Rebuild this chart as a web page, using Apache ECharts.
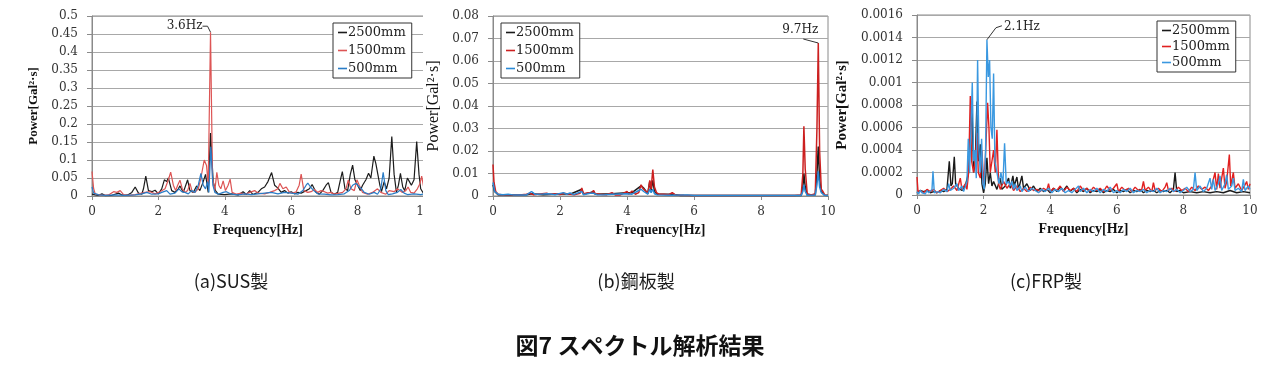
<!DOCTYPE html>
<html><head><meta charset="utf-8">
<script src="https://cdn.jsdelivr.net/npm/echarts@6/dist/echarts.min.js"></script>
<style>
html,body{margin:0;padding:0;background:#fff;width:1280px;height:372px;overflow:hidden}
.p{position:absolute;top:0;height:372px;overflow:hidden}
</style></head><body>
<div id="c1" class="p" style="left:0;width:423px"></div>
<div id="c2" class="p" style="left:423px;width:427px"></div>
<div id="c3" class="p" style="left:830px;width:450px"></div>
<script>
// ---------- data ----------
const seriesNames = ['2500mm', '1500mm', '500mm'];
const captions = ['(a)SUS製', '(b)鋼板製', '(c)FRP製'];
const mainTitle = '図7 スペクトル解析結果';
const xTitle = 'Frequency[Hz]';
const yTitle = 'Power[Gal²·s]';
const peakLabels = ['3.6Hz', '9.7Hz', '2.1Hz'];
const peakPoints = [[3.57, 0.455], [9.71, 0.068], [2.1, 0.00138]];

// (a) SUS  [frequency Hz, power]
const sus2500 = [[0,0.005],[0.1,0.003],[0.2,0.002],[0.3,0.006],[0.4,0.001],[0.6,0.002],[0.8,0.008],[0.9,0.003],[1.0,0.002],[1.1,0.004],[1.2,0.01],[1.3,0.025],[1.4,0.008],[1.5,0.005],[1.55,0.02],[1.62,0.055],[1.7,0.015],[1.8,0.012],[1.9,0.016],[2.0,0.006],[2.1,0.02],[2.18,0.045],[2.25,0.04],[2.3,0.05],[2.4,0.015],[2.5,0.01],[2.6,0.02],[2.65,0.028],[2.75,0.01],[2.88,0.045],[2.95,0.015],[3.05,0.01],[3.15,0.028],[3.25,0.015],[3.35,0.04],[3.42,0.06],[3.5,0.01],[3.57,0.175],[3.65,0.04],[3.72,0.015],[3.8,0.005],[4.0,0.004],[4.2,0.006],[4.4,0.003],[4.55,0.012],[4.65,0.004],[4.75,0.015],[4.85,0.004],[5.0,0.01],[5.1,0.02],[5.2,0.025],[5.3,0.04],[5.41,0.065],[5.5,0.03],[5.6,0.022],[5.7,0.01],[5.8,0.015],[5.9,0.008],[6.0,0.012],[6.1,0.006],[6.2,0.01],[6.3,0.008],[6.45,0.015],[6.55,0.02],[6.63,0.032],[6.75,0.01],[6.85,0.005],[6.95,0.015],[7.05,0.03],[7.12,0.037],[7.2,0.01],[7.3,0.005],[7.4,0.01],[7.47,0.04],[7.54,0.068],[7.62,0.02],[7.7,0.015],[7.78,0.06],[7.85,0.086],[7.92,0.045],[8.0,0.03],[8.08,0.015],[8.15,0.03],[8.25,0.045],[8.33,0.063],[8.4,0.05],[8.49,0.111],[8.55,0.09],[8.6,0.086],[8.67,0.03],[8.72,0.012],[8.8,0.04],[8.87,0.02],[8.95,0.05],[9.03,0.165],[9.1,0.06],[9.17,0.01],[9.23,0.03],[9.29,0.063],[9.36,0.025],[9.42,0.015],[9.5,0.05],[9.56,0.04],[9.62,0.03],[9.7,0.045],[9.78,0.151],[9.85,0.06],[9.9,0.02],[10,0.005]];
const sus1500 = [[0,0.068],[0.05,0.02],[0.1,0.005],[0.3,0.002],[0.5,0.003],[0.65,0.012],[0.75,0.01],[0.85,0.015],[0.95,0.004],[1.1,0.002],[1.3,0.004],[1.5,0.008],[1.6,0.01],[1.75,0.012],[1.9,0.006],[2.05,0.012],[2.2,0.02],[2.3,0.045],[2.37,0.066],[2.45,0.03],[2.52,0.015],[2.58,0.03],[2.65,0.044],[2.72,0.02],[2.8,0.01],[2.88,0.015],[2.95,0.035],[3.02,0.012],[3.1,0.01],[3.2,0.02],[3.28,0.05],[3.38,0.1],[3.45,0.085],[3.5,0.03],[3.57,0.455],[3.63,0.05],[3.7,0.015],[3.76,0.066],[3.82,0.03],[3.88,0.02],[3.95,0.042],[4.02,0.015],[4.1,0.03],[4.16,0.047],[4.22,0.01],[4.35,0.005],[4.5,0.008],[4.6,0.004],[4.75,0.01],[4.9,0.015],[5.0,0.008],[5.2,0.006],[5.35,0.01],[5.5,0.015],[5.6,0.02],[5.66,0.035],[5.75,0.02],[5.85,0.025],[5.95,0.01],[6.05,0.008],[6.15,0.012],[6.24,0.03],[6.3,0.061],[6.38,0.015],[6.5,0.01],[6.6,0.012],[6.7,0.018],[6.8,0.01],[6.9,0.015],[7.0,0.012],[7.1,0.008],[7.2,0.01],[7.3,0.005],[7.45,0.008],[7.55,0.01],[7.65,0.02],[7.72,0.045],[7.8,0.02],[7.9,0.015],[7.98,0.045],[8.05,0.03],[8.15,0.01],[8.3,0.005],[8.45,0.01],[8.6,0.02],[8.7,0.01],[8.85,0.005],[8.95,0.015],[9.1,0.012],[9.2,0.02],[9.35,0.01],[9.45,0.015],[9.52,0.025],[9.6,0.01],[9.7,0.008],[9.8,0.02],[9.88,0.035],[9.93,0.055],[10,0.02]];
const sus500 = [[0,0.025],[0.05,0.008],[0.1,0.005],[0.2,0.003],[0.4,0.002],[0.7,0.003],[1.0,0.002],[1.3,0.003],[1.5,0.006],[1.65,0.01],[1.8,0.005],[2.0,0.006],[2.1,0.01],[2.25,0.015],[2.35,0.005],[2.5,0.008],[2.62,0.02],[2.7,0.012],[2.8,0.01],[2.9,0.006],[3.0,0.015],[3.1,0.01],[3.2,0.03],[3.28,0.063],[3.35,0.03],[3.42,0.02],[3.48,0.04],[3.52,0.01],[3.58,0.137],[3.64,0.03],[3.7,0.01],[3.8,0.005],[3.95,0.01],[4.05,0.012],[4.2,0.005],[4.4,0.003],[4.6,0.006],[4.8,0.004],[5.0,0.006],[5.2,0.008],[5.4,0.01],[5.6,0.006],[5.8,0.01],[6.0,0.008],[6.2,0.005],[6.35,0.015],[6.45,0.03],[6.5,0.036],[6.58,0.025],[6.68,0.015],[6.8,0.006],[7.0,0.005],[7.2,0.003],[7.4,0.004],[7.6,0.006],[7.75,0.015],[7.85,0.03],[7.95,0.035],[8.05,0.025],[8.12,0.02],[8.2,0.01],[8.35,0.005],[8.5,0.01],[8.6,0.005],[8.7,0.02],[8.77,0.066],[8.85,0.015],[8.92,0.004],[9.05,0.006],[9.2,0.01],[9.3,0.018],[9.4,0.008],[9.5,0.004],[9.7,0.006],[9.9,0.004],[10,0.006]];

// (b) steel plate
const steel2500 = [[0,0.005],[0.05,0.002],[0.15,0.0006],[0.5,0.0004],[1.0,0.0006],[1.15,0.001],[1.5,0.0006],[2.1,0.001],[2.3,0.0008],[2.65,0.003],[2.7,0.0008],[2.9,0.0015],[3.0,0.002],[3.05,0.0008],[3.55,0.001],[4.0,0.0015],[4.15,0.0015],[4.42,0.0045],[4.5,0.0035],[4.55,0.003],[4.62,0.001],[4.68,0.0065],[4.72,0.0025],[4.77,0.007],[4.82,0.002],[4.9,0.0008],[5.35,0.0008],[5.6,0.0002],[9.2,0.0002],[9.25,0.004],[9.28,0.01],[9.32,0.004],[9.38,0.0004],[9.62,0.0005],[9.67,0.01],[9.71,0.022],[9.75,0.007],[9.8,0.002],[9.9,0.0003],[10,0.0002]];
const steel1500 = [[0,0.014],[0.03,0.006],[0.08,0.002],[0.15,0.0008],[0.3,0.0005],[0.5,0.0006],[0.8,0.0004],[1.0,0.0008],[1.1,0.0012],[1.2,0.0006],[1.4,0.0009],[1.6,0.0012],[1.7,0.0008],[1.85,0.001],[2.0,0.0007],[2.1,0.0012],[2.3,0.0008],[2.45,0.0006],[2.6,0.0012],[2.65,0.0036],[2.7,0.001],[2.85,0.0015],[2.9,0.0022],[2.95,0.0012],[3.0,0.0025],[3.05,0.001],[3.2,0.0008],[3.4,0.0006],[3.55,0.0015],[3.65,0.0005],[3.8,0.0005],[4.0,0.002],[4.05,0.0008],[4.15,0.0022],[4.25,0.0008],[4.35,0.0015],[4.42,0.005],[4.47,0.0035],[4.52,0.004],[4.57,0.002],[4.62,0.001],[4.68,0.007],[4.72,0.003],[4.77,0.0118],[4.82,0.004],[4.88,0.0015],[4.95,0.0008],[5.1,0.0008],[5.25,0.0006],[5.35,0.0015],[5.45,0.0004],[5.7,0.0003],[6.0,0.0002],[6.5,0.0002],[7.0,0.0002],[7.5,0.0002],[8.0,0.0002],[8.5,0.0002],[9.0,0.0002],[9.2,0.0005],[9.25,0.01],[9.28,0.031],[9.32,0.012],[9.38,0.001],[9.5,0.0005],[9.62,0.001],[9.67,0.03],[9.71,0.068],[9.75,0.02],[9.8,0.003],[9.85,0.002],[9.9,0.0005],[10,0.0003]];
const steel500 = [[0,0.006],[0.05,0.002],[0.15,0.0008],[0.3,0.0006],[0.45,0.0008],[0.6,0.0005],[1.0,0.0005],[1.15,0.002],[1.25,0.0008],[1.5,0.0009],[1.65,0.001],[1.85,0.0006],[2.1,0.0015],[2.2,0.0008],[2.3,0.0014],[2.4,0.0006],[2.65,0.002],[2.7,0.0006],[2.9,0.0012],[3.0,0.0012],[3.1,0.0006],[3.3,0.0005],[3.55,0.0008],[4.0,0.001],[4.15,0.0008],[4.42,0.003],[4.5,0.002],[4.55,0.0025],[4.62,0.0008],[4.68,0.003],[4.72,0.0015],[4.77,0.003],[4.82,0.001],[4.9,0.0005],[5.3,0.0003],[5.8,0.0005],[6.0,0.0002],[9.2,0.0002],[9.25,0.002],[9.28,0.005],[9.32,0.002],[9.38,0.0003],[9.62,0.0004],[9.67,0.005],[9.71,0.011],[9.75,0.004],[9.8,0.0015],[9.9,0.0003],[10,0.0002]];

// (c) FRP
const frp2500 = [[0,0.00002],[0.1,0.00004],[0.2,0.00003],[0.3,0.00004],[0.4,0.00002],[0.5,0.00003],[0.6,0.00002],[0.7,0.00004],[0.8,0.00003],[0.9,0.00005],[0.97,0.0003],[1.02,0.00008],[1.06,0.0001],[1.12,0.00034],[1.16,0.0001],[1.25,0.00006],[1.35,0.00004],[1.45,0.00008],[1.55,0.0002],[1.6,0.0005],[1.65,0.0008],[1.7,0.0002],[1.75,0.0003],[1.8,0.00083],[1.85,0.0003],[1.9,0.00045],[1.95,0.0001],[2.0,0.00002],[2.05,0.0001],[2.1,0.00033],[2.15,0.0001],[2.2,0.0002],[2.25,0.00008],[2.3,0.00012],[2.4,0.00005],[2.5,0.00015],[2.55,0.00005],[2.65,0.00008],[2.75,0.00015],[2.8,0.00006],[2.88,0.00017],[2.92,0.00008],[3.0,0.00016],[3.05,0.00005],[3.15,0.00017],[3.2,0.00006],[3.3,0.0001],[3.4,0.00004],[3.5,0.00008],[3.6,0.00003],[3.7,0.00006],[3.8,0.00003],[3.9,0.00005],[4.0,0.00002],[4.1,0.00006],[4.2,0.00003],[4.3,0.00007],[4.4,0.00004],[4.5,0.00008],[4.6,0.00003],[4.7,0.00006],[4.8,0.00002],[4.9,0.00005],[5.0,0.00003],[5.1,0.00006],[5.2,0.00002],[5.3,0.00004],[5.4,0.00003],[5.5,0.00005],[5.6,0.00002],[5.7,0.00004],[5.8,0.00003],[5.9,0.00005],[6.0,0.00002],[6.1,0.00004],[6.2,0.00003],[6.3,0.00005],[6.4,0.00002],[6.5,0.00004],[6.6,0.00003],[6.7,0.00005],[6.8,0.00002],[6.9,0.00004],[7.0,0.00003],[7.1,0.00004],[7.2,0.00002],[7.3,0.00004],[7.4,0.00003],[7.5,0.00004],[7.6,0.00002],[7.7,0.00005],[7.75,0.0002],[7.8,0.00003],[7.9,0.00004],[8.0,0.00002],[8.2,0.00003],[8.4,0.00002],[8.6,0.00003],[8.8,0.00002],[9.0,0.00003],[9.2,0.00002],[9.4,0.00004],[9.6,0.00002],[9.8,0.00003],[10,0.00002]];
const frp1500 = [[0,0.00016],[0.03,0.00003],[0.1,0.00004],[0.2,0.00002],[0.3,0.00005],[0.4,0.00003],[0.5,0.00005],[0.6,0.00002],[0.7,0.00004],[0.8,0.00006],[0.9,0.00003],[1.0,0.00005],[1.1,0.00008],[1.2,0.00004],[1.3,0.00015],[1.35,0.00005],[1.45,0.0001],[1.5,0.00005],[1.55,0.0002],[1.6,0.00088],[1.64,0.0003],[1.7,0.0002],[1.76,0.00035],[1.8,0.00055],[1.84,0.0002],[1.9,0.00015],[1.95,0.0004],[2.0,0.0001],[2.05,0.0003],[2.12,0.00082],[2.16,0.0006],[2.2,0.0002],[2.25,0.0003],[2.3,0.0004],[2.35,0.0002],[2.4,0.00058],[2.45,0.0001],[2.5,0.00005],[2.6,0.00012],[2.7,0.00006],[2.8,0.0001],[2.9,0.00004],[3.0,0.00008],[3.1,0.00003],[3.2,0.00006],[3.3,0.00003],[3.4,0.00007],[3.5,0.00004],[3.6,0.00005],[3.7,0.00003],[3.8,0.00006],[3.9,0.00004],[3.95,0.0001],[4.0,0.00003],[4.1,0.00006],[4.2,0.00004],[4.3,0.00008],[4.4,0.00003],[4.5,0.00007],[4.6,0.00004],[4.7,0.00006],[4.8,0.00003],[4.9,0.00008],[5.0,0.00004],[5.1,0.00006],[5.2,0.00003],[5.3,0.00007],[5.4,0.00004],[5.5,0.00006],[5.6,0.00003],[5.7,0.00008],[5.8,0.00004],[5.9,0.00006],[6.0,0.0001],[6.05,0.00003],[6.15,0.00007],[6.25,0.00004],[6.35,0.00006],[6.45,0.00003],[6.55,0.00007],[6.65,0.00004],[6.75,0.00005],[6.8,0.00012],[6.85,0.00004],[6.95,0.00007],[7.05,0.00003],[7.1,0.00011],[7.15,0.00004],[7.25,0.00006],[7.35,0.00003],[7.45,0.00007],[7.5,0.00011],[7.55,0.00004],[7.65,0.00006],[7.75,0.00003],[7.85,0.00007],[7.95,0.00004],[8.05,0.00006],[8.15,0.00003],[8.25,0.00007],[8.35,0.00004],[8.45,0.00008],[8.55,0.00005],[8.65,0.00007],[8.75,0.00004],[8.85,0.00008],[8.95,0.0002],[9.0,0.00005],[9.05,0.00019],[9.1,0.00006],[9.2,0.00024],[9.25,0.00006],[9.3,0.00012],[9.38,0.00036],[9.42,0.00008],[9.5,0.0002],[9.55,0.00006],[9.65,0.0001],[9.75,0.00004],[9.85,0.00009],[9.9,0.00012],[9.95,0.00005],[10,0.0001]];
const frp500 = [[0,0.00003],[0.05,0.00001],[0.1,0.00004],[0.15,0.00002],[0.2,0.00003],[0.25,0.00001],[0.3,0.00004],[0.35,0.00002],[0.4,0.00003],[0.45,0.00005],[0.48,0.00021],[0.52,0.00002],[0.6,0.00003],[0.7,0.00002],[0.8,0.00005],[0.9,0.00003],[0.95,0.0001],[1.0,0.00004],[1.1,0.00006],[1.2,0.0001],[1.25,0.00004],[1.35,0.00008],[1.4,0.00003],[1.5,0.00012],[1.54,0.0005],[1.58,0.0002],[1.62,0.0006],[1.66,0.001],[1.7,0.0003],[1.74,0.0004],[1.78,0.00015],[1.82,0.0012],[1.86,0.0004],[1.9,0.0002],[1.94,0.0005],[1.98,0.0001],[2.02,0.00005],[2.06,0.0004],[2.1,0.00138],[2.14,0.00105],[2.18,0.0012],[2.22,0.0006],[2.26,0.0005],[2.3,0.00108],[2.34,0.0003],[2.4,0.0002],[2.46,0.0001],[2.52,0.0002],[2.58,0.0001],[2.63,0.00046],[2.68,0.0001],[2.75,0.00012],[2.8,0.00008],[2.85,0.00012],[2.9,0.00005],[2.95,0.0001],[3.0,0.00004],[3.1,0.00008],[3.15,0.00003],[3.25,0.00007],[3.35,0.00003],[3.45,0.00006],[3.55,0.00004],[3.65,0.00002],[3.75,0.00005],[3.85,0.00003],[3.95,0.00006],[4.05,0.00002],[4.15,0.00005],[4.25,0.00003],[4.35,0.00006],[4.45,0.00002],[4.55,0.00004],[4.65,0.00002],[4.75,0.00005],[4.85,0.00008],[4.9,0.00003],[5.0,0.00006],[5.1,0.00002],[5.2,0.00005],[5.3,0.00003],[5.4,0.00006],[5.5,0.00002],[5.6,0.00005],[5.7,0.00003],[5.8,0.00007],[5.9,0.00002],[6.0,0.00004],[6.1,0.00002],[6.2,0.00005],[6.3,0.00003],[6.4,0.00006],[6.5,0.00002],[6.6,0.00004],[6.7,0.00003],[6.8,0.00005],[6.9,0.00002],[7.0,0.00004],[7.1,0.00003],[7.2,0.00006],[7.3,0.00002],[7.4,0.00004],[7.5,0.00003],[7.6,0.00006],[7.7,0.00003],[7.8,0.00005],[7.9,0.00002],[8.0,0.00004],[8.1,0.00007],[8.2,0.00003],[8.3,0.00005],[8.35,0.0002],[8.4,0.00004],[8.5,0.00008],[8.6,0.00003],[8.7,0.00006],[8.8,0.00015],[8.85,0.00005],[8.9,0.00014],[8.95,0.00004],[9.05,0.0001],[9.1,0.00017],[9.15,0.00004],[9.25,0.0001],[9.3,0.00018],[9.35,0.00005],[9.45,0.00008],[9.5,0.00015],[9.55,0.00004],[9.65,0.00006],[9.75,0.00003],[9.8,0.00014],[9.85,0.00004],[9.95,0.00008],[10,0.00005]];

// ---------- chart builder ----------
const SERIF = 'DejaVu Serif';
const BSERIF = 'Liberation Serif';
const JP = 'Noto Sans CJK JP';

function build(el, cfg) {
  const chart = echarts.init(el, null, { renderer: 'canvas' });
  const titles = [{
    text: cfg.caption, left: cfg.capX, top: 272, textAlign: 'center', padding: 0,
    textStyle: { fontFamily: JP, fontSize: 18, fontWeight: 'normal', color: '#1a1a1a' }
  }];
  if (cfg.main) titles.push({
    text: mainTitle, left: cfg.mainX, top: 334, textAlign: 'center', padding: 0,
    textStyle: { fontFamily: JP, fontSize: 23, fontWeight: 'bold', color: '#111' }
  });
  const axisGray = '#8a8a8a';
  const option = {
    animation: false,
    title: titles,
    grid: { left: cfg.gl, top: cfg.gt, width: cfg.gw, height: 180, show: true,
            borderColor: axisGray, borderWidth: 1, outerBoundsMode: 'none', containLabel: false },
    legend: {
      data: seriesNames, orient: 'vertical', left: cfg.lgL, top: cfg.lgT,
      icon: 'rect', itemWidth: 9, itemHeight: 1.6, itemGap: cfg.lgGap,
      padding: [3, 6, 3, 5], borderColor: '#333', borderWidth: 1, backgroundColor: '#fff',
      textStyle: { fontFamily: SERIF, fontSize: 13, color: '#222', padding: [0, 0, 0, -4] }
    },
    xAxis: {
      type: 'value', min: 0, max: 10, interval: 2,
      name: xTitle, nameLocation: 'middle', nameGap: 27,
      nameTextStyle: { fontFamily: BSERIF, fontWeight: 'bold', fontSize: 14, color: '#111' },
      axisLine: { lineStyle: { color: axisGray } },
      axisTick: { show: true, length: 4, lineStyle: { color: axisGray } },
      axisLabel: { margin: 10, fontFamily: SERIF, fontSize: 12, color: '#333' },
      splitLine: { show: false }
    },
    yAxis: {
      type: 'value', min: 0, max: cfg.ymax, interval: cfg.yint,
      name: yTitle, nameLocation: 'middle', nameGap: cfg.yNameGap,
      nameTextStyle: { fontFamily: BSERIF, fontWeight: cfg.yNameWeight, fontSize: cfg.yNameSize, color: '#111' },
      axisLine: { show: true, lineStyle: { color: axisGray } },
      axisTick: { show: true, length: 5, lineStyle: { color: axisGray } },
      axisLabel: { margin: 14, fontFamily: SERIF, fontSize: 12, color: '#333' },
      splitLine: { show: true, lineStyle: { color: '#a8a8a8', width: 1 } }
    },
    series: cfg.data.map((d, i) => ({
      name: seriesNames[i], type: 'line', data: d, showSymbol: false, symbol: 'none',
      color: cfg.colors[i], lineStyle: { width: cfg.lw, color: cfg.colors[i] },
      emphasis: { disabled: true }, z: 2 + i
    }))
  };
  chart.setOption(option);
  // peak annotation placed from the library's own scale
  const p = chart.convertToPixel({ gridIndex: 0 }, cfg.peak);
  const pts = cfg.lead.map(o => [p[0] + o[0], p[1] + o[1]]);
  chart.setOption({
    graphic: [
      { type: 'polyline', shape: { points: pts }, style: { stroke: '#333', lineWidth: 1, fill: null }, z: 50 },
      { type: 'text', x: p[0] + cfg.txt[0], y: p[1] + cfg.txt[1], z: 50,
        style: { text: cfg.label, font: '12px "DejaVu Serif"', fill: '#222', align: cfg.txtAlign, verticalAlign: 'middle' } }
    ]
  });
  return chart;
}

build(document.getElementById('c1'), {
  caption: captions[0], capX: 231,
  gl: 92, gt: 16, gw: 332, ymax: 0.5, yint: 0.05,
  yNameGap: 45, yNameWeight: 'bold', yNameSize: 13,
  lgL: 333, lgT: 23, lgGap: 5,
  data: [sus2500, sus1500, sus500], colors: ['#1c1c1c', '#dd5555', '#2a7cc6'], lw: 1.2,
  peak: peakPoints[0], label: peakLabels[0],
  lead: [[-8, -6], [-3, -6], [0, 0]], txt: [-8, -6], txtAlign: 'right'
});
build(document.getElementById('c2'), {
  caption: captions[1], capX: 213, main: true, mainX: 217,
  gl: 70, gt: 16, gw: 335, ymax: 0.08, yint: 0.01,
  yNameGap: 46, yNameWeight: 'normal', yNameSize: 16,
  lgL: 78, lgT: 23, lgGap: 5,
  data: [steel2500, steel1500, steel500], colors: ['#1a1a1a', '#cc2020', '#2a8ad6'], lw: 1.5,
  peak: peakPoints[1], label: peakLabels[1],
  lead: [[-15, -4], [0, 0]], txt: [-18, -13], txtAlign: 'center'
});
build(document.getElementById('c3'), {
  caption: captions[2], capX: 216,
  gl: 87, gt: 15, gw: 333, ymax: 0.0016, yint: 0.0002,
  yNameGap: 60, yNameWeight: 'bold', yNameSize: 15,
  lgL: 327, lgT: 21, lgGap: 3,
  data: [frp2500, frp1500, frp500], colors: ['#1a1a1a', '#e02020', '#3a98e0'], lw: 1.4,
  peak: peakPoints[2], label: peakLabels[2],
  lead: [[15, -14], [9, -12], [0, 0]], txt: [17, -13], txtAlign: 'left'
});
</script>
</body></html>
